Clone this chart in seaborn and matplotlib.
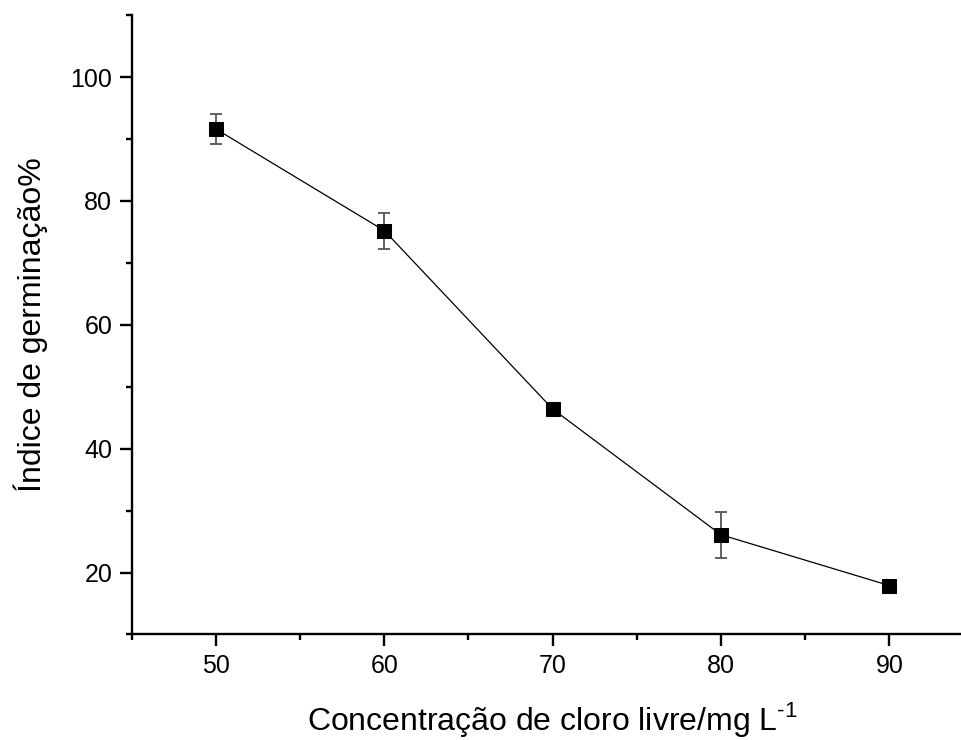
import matplotlib
matplotlib.use("Agg")
import matplotlib.pyplot as plt
from matplotlib.ticker import MultipleLocator
import seaborn as sns
import pandas as pd

# Germination index vs free chlorine concentration
concentracao = [50, 60, 70, 80, 90]
indice = [91.6, 75.2, 46.4, 26.1, 17.9]
desvio = [2.4, 2.9, 0.6, 3.7, 0.5]
xticks = [50, 60, 70, 80, 90]
yticks = [20, 40, 60, 80, 100]

df = pd.DataFrame({"conc": concentracao, "indice": indice, "sd": desvio})

sns.set_theme(style="ticks")
plt.rcParams["font.family"] = ["Liberation Sans", "DejaVu Sans"]

W, H = 962, 740
fig = plt.figure(figsize=(W / 100, H / 100), dpi=100)
ax_left, ax_bottom, ax_w, ax_h = 0.137, 0.1426, 0.875, 0.837
ax = fig.add_axes([ax_left, ax_bottom, ax_w, ax_h])

ax.errorbar(df["conc"], df["indice"], yerr=df["sd"], fmt="none",
            ecolor="#555555", elinewidth=1.3, capsize=4.5, capthick=1.3,
            zorder=2)
sns.lineplot(data=df, x="conc", y="indice", ax=ax, color="black",
             linewidth=0.9, marker="s", markersize=10, markeredgecolor="black",
             markerfacecolor="black", zorder=3)

ax.set_xlim(45, 95)
ax.set_ylim(10, 110)
ax.set_xticks(xticks)
ax.set_yticks(yticks)
ax.xaxis.set_minor_locator(MultipleLocator(5))
ax.yaxis.set_minor_locator(MultipleLocator(10))

for side in ["top", "right"]:
    ax.spines[side].set_visible(False)
for side in ["left", "bottom"]:
    ax.spines[side].set_linewidth(1.7)
    ax.spines[side].set_color("black")

ax.tick_params(axis="both", which="major", direction="out", length=8.5,
               width=1.7, color="black", labelsize=18, pad=5.5,
               labelcolor="black")
ax.tick_params(axis="both", which="minor", direction="out", length=4.5,
               width=1.7, color="black")

ax.set_xlabel("Concentração de cloro livre/mg L$^{\\mathregular{\u2010 1}}$",
              fontsize=23, color="black", va="baseline")
ax.set_ylabel("Índice de germinação%", fontsize=23, color="black",
              va="center")

# label positions in pixels, converted to axes fractions
axes_px_w, axes_px_h = ax_w * W, ax_h * H
spine_x_px, spine_y_px = ax_left * W, H * (1 - ax_bottom)
ax.xaxis.set_label_coords(0.5, -(730 - spine_y_px) / axes_px_h)
ax.yaxis.set_label_coords(-(spine_x_px - 31) / axes_px_w, 0.5)
ax.grid(False)

fig.savefig("out.png", dpi=100)
